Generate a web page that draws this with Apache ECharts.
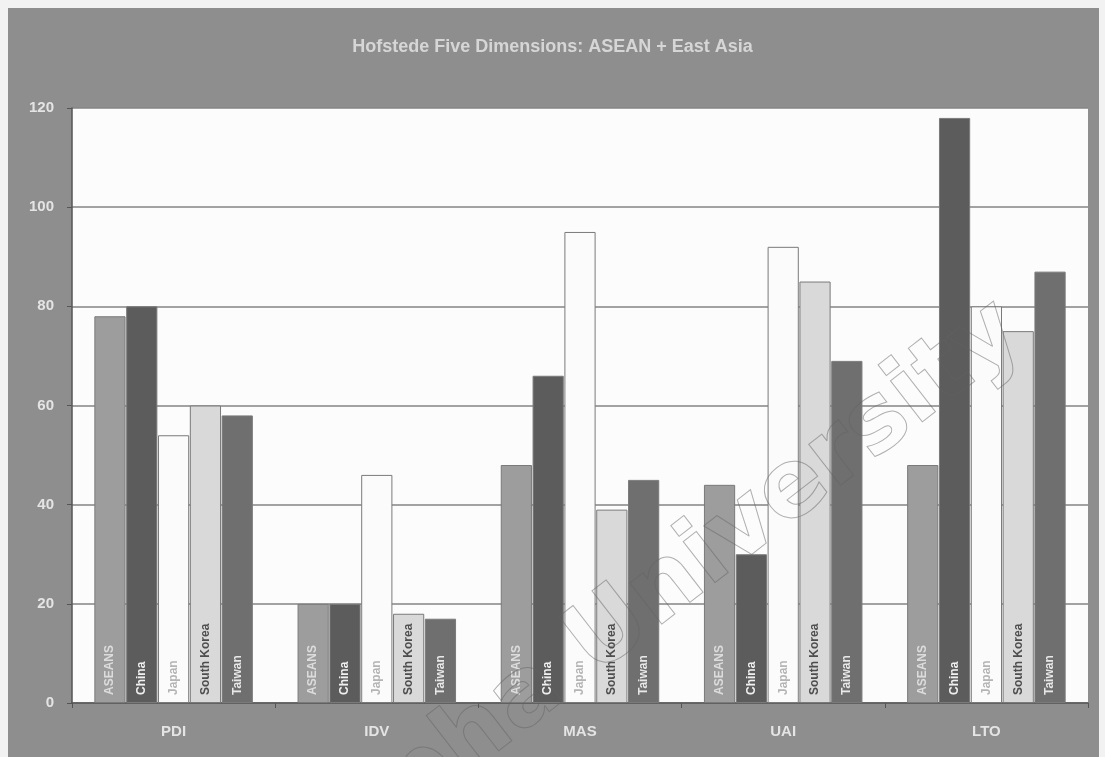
<!DOCTYPE html>
<html>
<head>
<meta charset="utf-8">
<script src="https://cdn.jsdelivr.net/npm/echarts@6/dist/echarts.min.js"></script>
<style>
  html, body { margin: 0; padding: 0; background: #f2f2f2; }
  #main { width: 1105px; height: 757px; }
</style>
</head>
<body>
<div id="main"></div>
<script>
// dimensions on the x axis
const dimensions = ['PDI', 'IDV', 'MAS', 'UAI', 'LTO'];
// scores per country, in the order of dimensions
const aseans = [78, 20, 48, 44, 48];
const china = [80, 20, 66, 30, 118];
const japan = [54, 46, 95, 92, 80];
const southKorea = [60, 18, 39, 85, 75];
const taiwan = [58, 17, 45, 69, 87];
const yTicks = [0, 20, 40, 60, 80, 100, 120];

const chart = echarts.init(document.getElementById('main'));

function barSeries(name, data, fill, textColor) {
  return {
    name: name,
    type: 'bar',
    data: data,
    barGap: '2%',
    barCategoryGap: '22%',
    itemStyle: { color: fill, borderColor: '#7a7a7a', borderWidth: 1 },
    label: {
      show: true,
      formatter: name,
      position: 'insideBottom',
      rotate: 90,
      align: 'left',
      verticalAlign: 'middle',
      distance: 8,
      color: textColor,
      fontFamily: 'Liberation Sans, Arial, sans-serif',
      fontWeight: 'bold',
      fontSize: 12
    }
  };
}

chart.setOption({
  backgroundColor: '#f2f2f2',
  animation: false,
  graphic: [
    {
      type: 'rect', z: -10,
      shape: { x: 8, y: 8, width: 1091, height: 757 },
      style: { fill: '#8e8e8e' }
    },
    {
      type: 'text', z: 100,
      left: 'center', top: 38,
      style: {
        text: 'Hofstede Five Dimensions: ASEAN + East Asia',
        fill: '#d6d6d6',
        font: 'bold 18px "Liberation Sans", Arial, sans-serif'
      }
    },
    {
      // faint outlined watermark
      type: 'text', z: 100,
      x: 168, y: 916, rotation: 0.66,
      style: {
        text: 'Burapha University',
        fill: 'rgba(0,0,0,0)',
        stroke: 'rgba(100,100,100,0.5)',
        lineWidth: 1,
        font: 'bold 95px "DejaVu Sans", sans-serif'
      }
    }
  ],
  grid: {
    left: 72, right: 17, top: 108, bottom: 54,
    show: true, backgroundColor: '#fcfcfc', borderWidth: 0
  },
  xAxis: {
    type: 'category',
    data: dimensions,
    axisLine: { lineStyle: { color: '#555', width: 1.5 } },
    axisTick: { show: true, length: 5, lineStyle: { color: '#555' } },
    axisLabel: {
      color: '#e4e4e4', fontWeight: 'bold', fontSize: 15, margin: 21,
      fontFamily: 'Liberation Sans, Arial, sans-serif'
    }
  },
  yAxis: {
    type: 'value',
    min: yTicks[0], max: yTicks[yTicks.length - 1], interval: 20,
    axisLine: { show: true, lineStyle: { color: '#555', width: 1.5 } },
    axisTick: { show: true, length: 5, lineStyle: { color: '#555' } },
    splitLine: { lineStyle: { color: '#858585', width: 1.5 } },
    axisLabel: {
      color: '#e4e4e4', fontWeight: 'bold', fontSize: 15, margin: 18,
      fontFamily: 'Liberation Sans, Arial, sans-serif'
    }
  },
  series: [
    barSeries('ASEANS', aseans, '#9d9d9d', '#dcdcdc'),
    barSeries('China', china, '#5c5c5c', '#f0f0f0'),
    barSeries('Japan', japan, '#fbfbfb', '#b5b5b5'),
    barSeries('South Korea', southKorea, '#d9d9d9', '#4e4e4e'),
    barSeries('Taiwan', taiwan, '#6f6f6f', '#e8e8e8')
  ]
});
</script>
</body>
</html>
